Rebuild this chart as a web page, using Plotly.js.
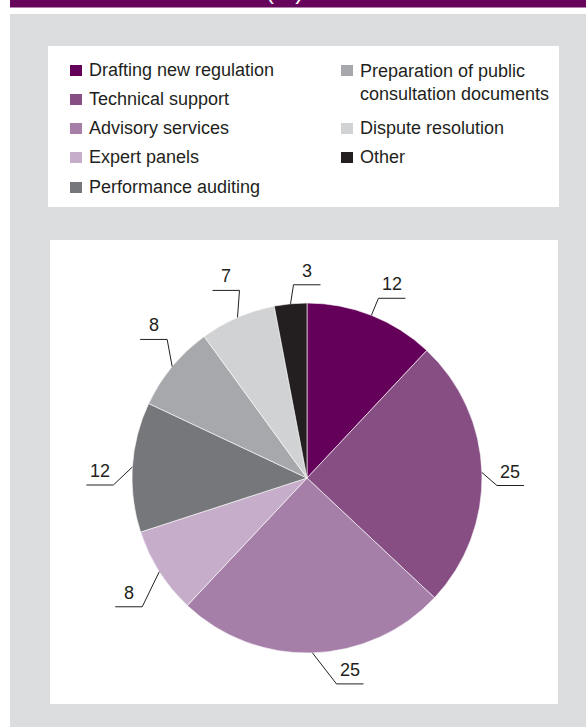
<!DOCTYPE html>
<html>
<head>
<meta charset="utf-8">
<script src="https://cdn.plot.ly/plotly-3.0.1.min.js"></script>
<style>
  html, body { margin: 0; padding: 0; background: #ffffff; }
  #chart { width: 586px; height: 727px; }
</style>
</head>
<body>
<div id="chart"></div>
<script>
// ---- data ----
const categories = [
  "Drafting new regulation",
  "Technical support",
  "Advisory services",
  "Expert panels",
  "Performance auditing",
  "Preparation of public consultation documents",
  "Dispute resolution",
  "Other"
];
const values = [12, 25, 25, 8, 12, 8, 7, 3];
const legendLabels = [
  "Drafting new regulation",
  "Technical support",
  "Advisory services",
  "Expert panels",
  "Performance auditing",
  "Preparation of public<br>consultation documents",
  "Dispute resolution",
  "Other"
];
const titleText = "(%)";

// ---- styling ----
const colors = ["#65005a", "#874e84", "#a57fa8", "#c6aecb", "#76777b", "#a7a8ab", "#d1d2d4", "#231f20"];
const legendCol = [0, 0, 0, 0, 0, 1, 1, 1];
const legendRow = [0, 1, 2, 3, 4, 0, 2, 3];
// leader elbow offsets (px from slice edge) and horizontal direction
const leaderOffset = [[7,-17],[15,13],[24,31],[-17,35],[-19,18],[-5,-27],[2,-27],[3,-19]];
const leaderDir = [1, 1, 1, -1, -1, -1, -1, 1];

const W = 586, H = 727;
const px = x => x / W;
const py = y => 1 - y / H;
const textColor = "#231f20";
const FONT = "Liberation Sans, Arial, sans-serif";

const cx = 307, cy = 478, r = 175;

const shapes = [];
const annotations = [];

function rect(x0, y0, x1, y1, color) {
  shapes.push({type: "rect", xref: "paper", yref: "paper", layer: "below",
    x0: px(x0), x1: px(x1), y0: py(y1), y1: py(y0),
    fillcolor: color, line: {width: 0}});
}
// backgrounds
rect(10, 14, 586, 727, "#dcdddf");
rect(10, 0, 586, 7.5, "#66055b");
rect(48, 46, 559, 207, "#ffffff");
rect(50, 240, 558, 704, "#ffffff");

// title fragment (cut off at top of the page, as in the reference)
annotations.push({xref: "paper", yref: "paper", x: px(284), y: py(6),
  xanchor: "center", yanchor: "bottom", showarrow: false, text: titleText,
  font: {family: FONT, size: 24, color: "#ffffff"}});

// legend
const colX = [70, 341];
const rowBase = [76, 105, 134, 163, 193];
categories.forEach((c, i) => {
  const sx = colX[legendCol[i]];
  const base = rowBase[legendRow[i]];
  shapes.push({type: "rect", xref: "paper", yref: "paper", layer: "above",
    x0: px(sx), x1: px(sx + 12), y0: py(base), y1: py(base - 11),
    fillcolor: colors[i], line: {width: 0}});
  const multi = legendLabels[i].indexOf("<br>") >= 0;
  annotations.push({xref: "paper", yref: "paper",
    x: px(sx + 17), y: py(multi ? base + 12 - 6 : base - 6),
    xanchor: "left", yanchor: "middle", align: "left", showarrow: false,
    text: legendLabels[i],
    font: {family: FONT, size: 18, color: textColor}});
});

// value labels with leader lines
const total = values.reduce((a, b) => a + b, 0);
let cum = 0;
values.forEach((v, i) => {
  const mid = (cum + v / 2) / total;
  cum += v;
  const th = 2 * Math.PI * mid;
  const ex = cx + r * Math.sin(th), ey = cy - r * Math.cos(th);
  const bx = ex + leaderOffset[i][0], by = ey + leaderOffset[i][1];
  const hx = bx + leaderDir[i] * 27;
  shapes.push({type: "path", xref: "paper", yref: "paper", layer: "above",
    path: `M ${px(ex)} ${py(ey)} L ${px(bx)} ${py(by)} L ${px(hx)} ${py(by)}`,
    line: {color: textColor, width: 1}});
  annotations.push({xref: "paper", yref: "paper",
    x: px((bx + hx) / 2), y: py(by - 14),
    xanchor: "center", yanchor: "middle", showarrow: false,
    text: String(v),
    font: {family: "Liberation Sans Narrow, " + FONT, size: 18, color: textColor}});
});

const trace = {
  type: "pie",
  values: values,
  labels: categories,
  sort: false,
  direction: "clockwise",
  rotation: 0,
  textinfo: "none",
  hoverinfo: "label+value",
  showlegend: false,
  marker: {colors: colors, line: {color: "#ffffff", width: 0.6}},
  domain: {x: [px(cx - r), px(cx + r)], y: [py(cy + r), py(cy - r)]}
};

const layout = {
  width: W, height: H,
  margin: {l: 0, r: 0, t: 0, b: 0},
  paper_bgcolor: "#ffffff",
  showlegend: false,
  shapes: shapes,
  annotations: annotations,
  font: {family: FONT}
};

Plotly.newPlot("chart", [trace], layout, {displayModeBar: false, staticPlot: true});
</script>
</body>
</html>
